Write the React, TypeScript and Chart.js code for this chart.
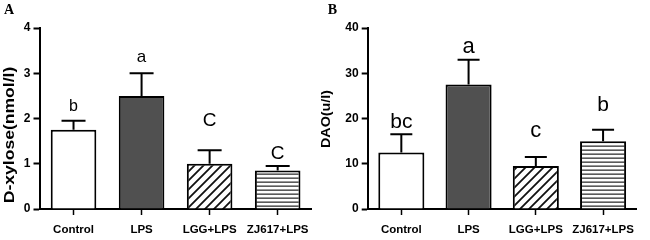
import React, { useEffect, useRef } from "react";
import { Chart, registerables } from "chart.js";

Chart.register(...registerables);

// ---------- data ----------
const categories = ["Control", "LPS", "LGG+LPS", "ZJ617+LPS"];

const xyloseMeans = [1.75, 2.5, 1.0, 0.85];
const xyloseErrTop = [1.95, 3.0, 1.3, 0.95];
const xyloseLetters = ["b", "a", "C", "C"];
const xyloseLetterPos = [2.17, 3.25, 1.83, 1.1];
const xyloseMax = 4;
const xyloseStep = 1;

const daoMeans = [12.5, 27.5, 9.5, 15];
const daoErrTop = [16.5, 33, 11.5, 17.5];
const daoLetters = ["bc", "a", "c", "b"];
const daoLetterPos = [18, 34.5, 16, 21.7];
const daoMax = 40;
const daoStep = 10;

// ---------- patterns ----------
function diagPattern(): CanvasPattern | string {
  const c = document.createElement("canvas");
  const s = 9;
  c.width = s;
  c.height = s;
  const g = c.getContext("2d")!;
  g.fillStyle = "#fff";
  g.fillRect(0, 0, s, s);
  g.strokeStyle = "#111";
  g.lineWidth = 1.8;
  g.beginPath();
  g.moveTo(0, s);
  g.lineTo(s, 0);
  g.moveTo(-2, 2);
  g.lineTo(2, -2);
  g.moveTo(s - 2, s + 2);
  g.lineTo(s + 2, s - 2);
  g.stroke();
  return g.createPattern(c, "repeat") || "#fff";
}

function horizPattern(): CanvasPattern | string {
  const c = document.createElement("canvas");
  c.width = 4;
  c.height = 4;
  const g = c.getContext("2d")!;
  g.fillStyle = "#fff";
  g.fillRect(0, 0, 4, 4);
  g.fillStyle = "#333";
  g.fillRect(0, 1.5, 4, 1.3);
  return g.createPattern(c, "repeat") || "#fff";
}

type Panel = {
  panelLabel: string;
  labelX: number;
  means: number[];
  errTop: number[];
  letters: string[];
  letterPos: number[];
  letterSizes: number[];
  max: number;
  step: number;
  title: string;
  titleX: number;
  titleY: number;
  titleSize: number;
  titleStretch: number;
  yWidth: number;
  rightPad: number;
  barPct: number;
  capHalf: number;
};

function buildChart(canvas: HTMLCanvasElement, p: Panel) {
  const fills = ["#ffffff", "#505050", diagPattern(), horizPattern()];
  const overlay = {
    id: "overlay" + p.panelLabel,
    afterDatasetsDraw(chart: any) {
      const ctx: CanvasRenderingContext2D = chart.ctx;
      const meta = chart.getDatasetMeta(0);
      const ys = chart.scales.y;
      ctx.save();
      ctx.strokeStyle = "#000";
      ctx.lineWidth = 2;
      ctx.fillStyle = "#000";
      meta.data.forEach((bar: any, i: number) => {
        const top = ys.getPixelForValue(p.errTop[i]);
        ctx.beginPath();
        ctx.moveTo(bar.x, bar.y);
        ctx.lineTo(bar.x, top);
        ctx.moveTo(bar.x - p.capHalf, top);
        ctx.lineTo(bar.x + p.capHalf, top);
        ctx.stroke();
        ctx.font = `${p.letterSizes[i]}px "Liberation Sans", Arial, sans-serif`;
        ctx.textAlign = "center";
        ctx.textBaseline = "alphabetic";
        ctx.fillText(p.letters[i], bar.x, ys.getPixelForValue(p.letterPos[i]));
      });
      // panel label
      ctx.font = 'bold 14px "Liberation Serif", "Times New Roman", serif';
      ctx.textAlign = "left";
      ctx.fillText(p.panelLabel, p.labelX, 14);
      // y title
      ctx.translate(p.titleX, p.titleY);
      ctx.rotate(-Math.PI / 2);
      ctx.scale(p.titleStretch, 1);
      ctx.font = `bold ${p.titleSize}px "Liberation Sans", Arial, sans-serif`;
      ctx.textAlign = "center";
      ctx.textBaseline = "middle";
      ctx.fillText(p.title, 0, 0);
      ctx.restore();
    },
  };

  const xFont = { family: '"Liberation Sans", Arial, sans-serif', size: 11.5, weight: "bold" as const };
  const yFont = { family: '"Liberation Sans", Arial, sans-serif', size: 12, weight: "bold" as const };

  return new Chart(canvas, {
    type: "bar",
    data: {
      labels: categories,
      datasets: [
        {
          data: p.means,
          backgroundColor: fills as any,
          borderColor: "#000",
          borderWidth: 2,
          barPercentage: p.barPct,
          categoryPercentage: 1,
        },
      ],
    },
    options: {
      responsive: false,
      animation: false,
      devicePixelRatio: 1,
      layout: { padding: { top: 28, right: p.rightPad, left: 0, bottom: 0 } },
      plugins: { legend: { display: false }, tooltip: { enabled: false }, title: { display: false } },
      scales: {
        x: {
          grid: {
            offset: false,
            drawOnChartArea: false,
            drawTicks: true,
            tickLength: 6,
            tickWidth: 1.5,
            color: "#000",
          },
          border: { color: "#000", width: 2 },
          ticks: { color: "#000", font: xFont, padding: 8, maxRotation: 0, autoSkip: false },
          afterFit: (s: any) => {
            s.height = 31;
          },
        },
        y: {
          min: 0,
          max: p.max,
          ticks: { stepSize: p.step, color: "#000", font: yFont, padding: 3 },
          grid: { drawOnChartArea: false, drawTicks: true, tickLength: 6, tickWidth: 2, color: "#000" },
          border: { color: "#000", width: 2 },
          afterFit: (s: any) => {
            s.width = p.yWidth;
          },
        },
      },
    },
    plugins: [overlay],
  });
}

const panelA: Panel = {
  panelLabel: "A",
  labelX: 4,
  means: xyloseMeans,
  errTop: xyloseErrTop,
  letters: xyloseLetters,
  letterPos: xyloseLetterPos,
  letterSizes: [16, 17, 19, 19],
  max: xyloseMax,
  step: xyloseStep,
  title: "D-xylose(nmol/l)",
  titleX: 9.5,
  titleY: 135,
  titleSize: 15,
  titleStretch: 1.17,
  yWidth: 39.5,
  rightPad: 13.3,
  barPct: 0.67,
  capHalf: 12,
};

const panelB: Panel = {
  panelLabel: "B",
  labelX: 12.7,
  means: daoMeans,
  errTop: daoErrTop,
  letters: daoLetters,
  letterPos: daoLetterPos,
  letterSizes: [21, 22, 22, 21],
  max: daoMax,
  step: daoStep,
  title: "DAO(u/l)",
  titleX: 11.5,
  titleY: 119,
  titleSize: 13,
  titleStretch: 1.1,
  yWidth: 52.7,
  rightPad: 13.3,
  barPct: 0.685,
  capHalf: 11,
};

function ChartCanvas({ panel, width }: { panel: Panel; width: number }) {
  const ref = useRef<HTMLCanvasElement | null>(null);
  useEffect(() => {
    if (!ref.current) return;
    const ch = buildChart(ref.current, panel);
    return () => ch.destroy();
  }, [panel]);
  return <canvas ref={ref} width={width} height={240} style={{ width, height: 240, display: "block" }} />;
}

export default function App() {
  return (
    <div style={{ position: "fixed", left: 0, top: 0, width: 650, height: 240, background: "#fff", overflow: "hidden" }}>
      <div style={{ position: "absolute", left: 0, top: 0, width: 325, height: 240 }}>
        <ChartCanvas panel={panelA} width={325} />
      </div>
      <div style={{ position: "absolute", left: 315, top: 0, width: 335, height: 240 }}>
        <ChartCanvas panel={panelB} width={335} />
      </div>
    </div>
  );
}
